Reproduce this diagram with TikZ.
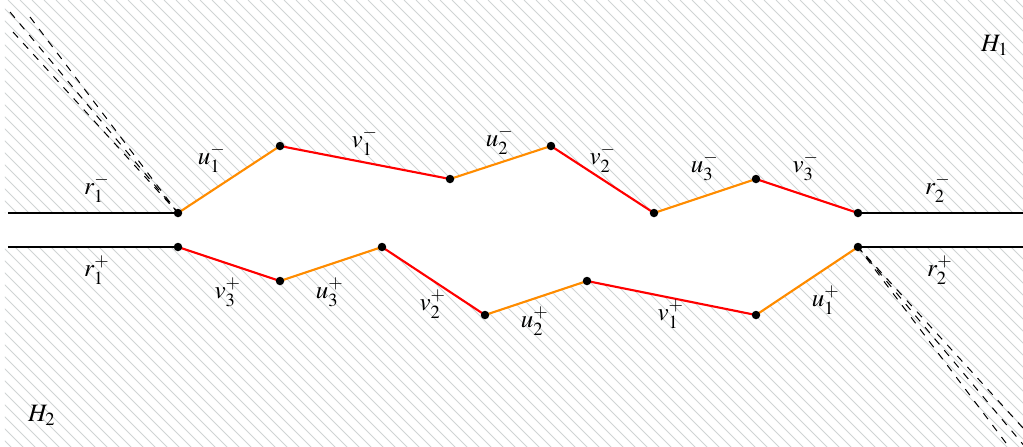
\documentclass[tikz,border=0pt]{standalone}
\usepackage{mathptmx}
\usepackage{xcolor}
\usepackage{tikz}
\usetikzlibrary{calc}
\definecolor{segorange}{RGB}{255,140,0}
\definecolor{hatchgray}{RGB}{208,212,212}
\tikzset{
  hatch/.style={draw=hatchgray, line width=0.4pt},
  rayline/.style={draw=black, line width=0.45pt},
  useg/.style={draw=segorange, line width=0.85pt},
  vseg/.style={draw=red, line width=0.85pt},
  limray/.style={draw=black, dashed, line width=0.4pt},
  vtx/.style={circle, fill=black, inner sep=0pt, minimum size=3.4pt},
  lab/.style={font=\normalsize, inner sep=1pt}
}
\begin{document}
\begin{tikzpicture}[x=0.4pt, y=-0.4pt]
\useasboundingbox (0,0) rectangle (1023,447);
% vertices of the upper boundary
\coordinate (a0) at (178,213);
\coordinate (a1) at (280,146);
\coordinate (a2) at (450,179);
\coordinate (a3) at (551,146);
\coordinate (a4) at (654,213);
\coordinate (a5) at (756,179);
\coordinate (a6) at (858,213);
% vertices of the lower boundary
\coordinate (b0) at (178,247);
\coordinate (b1) at (280,281);
\coordinate (b2) at (382,247);
\coordinate (b3) at (485,315);
\coordinate (b4) at (587,281);
\coordinate (b5) at (756,315);
\coordinate (b6) at (858,247);
% ends of the rays
\coordinate (la) at (8,213);
\coordinate (lb) at (8,247);
\coordinate (ra) at (1023,213);
\coordinate (rb) at (1023,247);
% hatched half planes
\begin{scope}
\clip (5,0) rectangle (1023,447);
\clip (5,0) -- (1023,0) -- (ra) -- (a6) -- (a5) -- (a4) -- (a3) -- (a2) -- (a1) -- (a0) -- (5,213) -- cycle
      (5,447) -- (1023,447) -- (rb) -- (b6) -- (b5) -- (b4) -- (b3) -- (b2) -- (b1) -- (b0) -- (5,247) -- cycle;
\foreach \c in {-460,-448,...,1030}
  \draw[hatch] (\c,0) -- ++(460,460);
\end{scope}
% limiting directions
\coordinate (d1) at (10,12);
\coordinate (d2) at (30,17);
\coordinate (d3) at (13,32);
\coordinate (e1) at (1026,448);
\coordinate (e2) at (1006,443);
\coordinate (e3) at (1023,428);
\foreach \d in {d1,d2,d3}
  \draw[limray] (\d) -- (a0);
\foreach \e in {e1,e2,e3}
  \draw[limray] (\e) -- (b6);
% rays
\draw[rayline] (la) -- (a0);
\draw[rayline] (a6) -- (ra);
\draw[rayline] (lb) -- (b0);
\draw[rayline] (b6) -- (rb);
% upper chain
\draw[useg] (a0) -- (a1);
\draw[vseg] (a1) -- (a2);
\draw[useg] (a2) -- (a3);
\draw[vseg] (a3) -- (a4);
\draw[useg] (a4) -- (a5);
\draw[vseg] (a5) -- (a6);
% lower chain
\draw[vseg] (b0) -- (b1);
\draw[useg] (b1) -- (b2);
\draw[vseg] (b2) -- (b3);
\draw[useg] (b3) -- (b4);
\draw[vseg] (b4) -- (b5);
\draw[useg] (b5) -- (b6);
\foreach \p in {a0,a1,a2,a3,a4,a5,a6,b0,b1,b2,b3,b4,b5,b6}
  \node[vtx] at (\p) {};
% labels
\node[lab] (lr1m) at (97,188) {$r_1^-$};
\node[lab] (lr1p) at (97,270) {$r_1^+$};
\node[lab] (lr2m) at (938,188) {$r_2^-$};
\node[lab] (lr2p) at (940,270) {$r_2^+$};
\node[lab] (lu1m) at (212,158) {$u_1^-$};
\node[lab] (lv1m) at (365,141) {$v_1^-$};
\node[lab] (lu2m) at (500,140) {$u_2^-$};
\node[lab] (lv2m) at (603,158) {$v_2^-$};
\node[lab] (lu3m) at (705,166) {$u_3^-$};
\node[lab] (lv3m) at (806,166) {$v_3^-$};
\node[lab] (lv3p) at (228,292) {$v_3^+$};
\node[lab] (lu3p) at (330,292) {$u_3^+$};
\node[lab] (lv2p) at (433,304) {$v_2^+$};
\node[lab] (lu2p) at (535,321) {$u_2^+$};
\node[lab] (lv1p) at (671,314) {$v_1^+$};
\node[lab] (lu1p) at (826,300) {$u_1^+$};
\node[lab] (lh1) at (995,45) {$H_1$};
\node[lab] (lh2) at (42,415) {$H_2$};
\end{tikzpicture}
\end{document}
